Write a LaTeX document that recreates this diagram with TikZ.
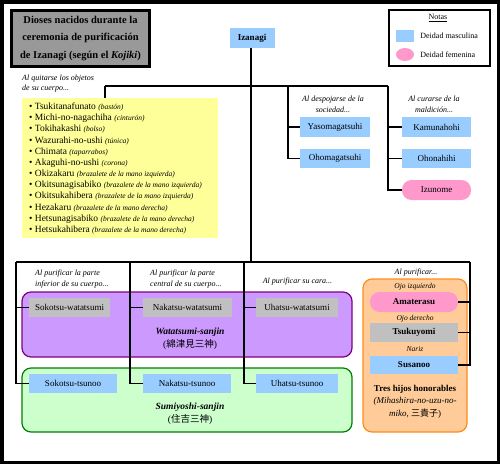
\documentclass[tikz,border=0pt]{standalone}
\usepackage{fontspec}
\setmainfont{Liberation Serif}
\newfontfamily\cjk{Noto Sans CJK JP}
\usepackage{tikz}
\usetikzlibrary{positioning, shapes.geometric, calc}
\definecolor{malebox}{HTML}{99CCFF}
\definecolor{femalebox}{HTML}{FF99CC}
\definecolor{greybox}{HTML}{C0C0C0}
\definecolor{titlegrey}{HTML}{999999}
\definecolor{listyellow}{HTML}{FFFF99}
\definecolor{watafill}{HTML}{CC99FF}
\definecolor{wataline}{HTML}{800080}
\definecolor{sumifill}{HTML}{CCFFCC}
\definecolor{sumiline}{HTML}{008000}
\definecolor{hijofill}{HTML}{FFCC99}
\definecolor{hijoline}{HTML}{FF8C1A}
\newcommand{\fs}[2]{\fontsize{#1}{#2}\selectfont}
\tikzset{
  godbox/.style={inner sep=0pt, minimum height=19pt, font=\fs{9}{10}},
  male/.style={godbox, fill=malebox},
  female/.style={godbox, fill=femalebox, rounded corners=9.5pt},
  greygod/.style={godbox, fill=greybox},
  link/.style={line width=1.6pt},
  hint/.style={inner sep=0pt, align=left, font=\fs{8}{10.5}\itshape},
  trio/.style={rounded corners=9pt, line width=1.2pt, inner sep=0pt},
}

\begin{document}
\begin{tikzpicture}[x=1pt, y=-1pt]
    \useasboundingbox (0,0) rectangle (500,464);
    \draw[line width=3.5pt] (1.75,1.75) rectangle (498.25,462.25);

    % title and legend
    \node[draw, line width=2.5pt, fill=titlegrey, minimum width=138pt, minimum height=56pt, inner sep=0pt,
      align=center, font=\fs{10.5}{17.5}\bfseries] (title) at (80.5,38.5)
      {Dioses nacidos durante la\\ceremonia de purificación\\de Izanagi (según el \textit{Kojiki})};
    \node[draw, line width=2.5pt, minimum width=101pt, minimum height=56pt, inner sep=0pt] (legend) at (439.5,38) {};
    \node[font=\fs{8}{9}, inner sep=0pt] (notas) at (438,18) {\underline{Notas}};
    \node[male, minimum width=18pt, minimum height=12pt] (keym) at (405,35.5) {};
    \node[female, ellipse, minimum width=18pt, minimum height=13pt] (keyf) at (405,54.5) {};
    \node[right=6pt of keym, font=\fs{8}{9}, inner sep=0pt] (keymtxt) {Deidad masculina};
    \node[right=6pt of keyf, font=\fs{8}{9}, inner sep=0pt] (keyftxt) {Deidad femenina};

    \node[male, minimum width=45pt, minimum height=20pt, font=\fs{9}{10}\bfseries] (izanagi) at (252,38) {Izanagi};

    % objects taken off
    \node[hint, anchor=west] (capobj) at (22,83.5) {Al quitarse los objetos\\de su cuerpo...};
    \node[fill=listyellow, minimum width=196pt, minimum height=140pt, inner sep=0pt] (items) at (120,168) {};
    \foreach \god/\obj [count=\i from 0] in {Tsukitanafunato/bastón, Michi-no-nagachiha/cinturón,
      Tokihakashi/bolso, Wazurahi-no-ushi/túnica, Chimata/taparrabos, Akaguhi-no-ushi/corona,
      Okizakaru/brazalete de la mano izquierda, Okitsunagisabiko/brazalete de la mano izquierda,
      Okitsukahibera/brazalete de la mano izquierda, Hezakaru/brazalete de la mano derecha,
      Hetsunagisabiko/brazalete de la mano derecha, Hetsukahibera/brazalete de la mano derecha}
      \node[anchor=west, inner sep=0pt, font=\fs{9.5}{11}] (item\i) at (29,{107+11.18*\i})
        {\textbullet\ \god\ {\fs{7.5}{9}\itshape(\obj)}};

    % society and curse
    \node[hint, align=center] (capsoc) at (333,104.5) {Al despojarse de la\\sociedad...};
    \node[hint, align=center] (capmal) at (434,104.5) {Al curarse de la\\maldición...};
    \node[male, minimum width=70pt, minimum height=20pt] (yaso) at (335,127) {Yasomagatsuhi};
    \node[male, minimum width=70pt] (ohoma) at (335,158.5) {Ohomagatsuhi};
    \node[male, minimum width=69pt, minimum height=20pt] (kamu) at (436.5,127) {Kamunahohi};
    \node[male, minimum width=69pt] (ohona) at (436.5,158.5) {Ohonahihi};
    \node[female, minimum width=69pt, minimum height=20pt] (izunome) at (436.5,190) {Izunome};

    % purification groups
    \node[trio, draw=wataline, fill=watafill, minimum width=330pt, minimum height=65pt] (wata) at (187,324.5) {};
    \node[trio, draw=sumiline, fill=sumifill, minimum width=330pt, minimum height=64pt] (sumi) at (187,400) {};
    \node[trio, draw=hijoline, fill=hijofill, minimum width=104pt, minimum height=153pt] (hijos) at (415,355.5) {};
    \node[align=center, inner sep=0pt, font=\fs{9.5}{13}] (watalbl) at (190,338.5)
      {\textbf{\textit{Watatsumi-sanjin}}\\({\cjk 綿津見三神})};
    \node[align=center, inner sep=0pt, font=\fs{9.5}{13}] (sumilbl) at (190,414)
      {\textbf{\textit{Sumiyoshi-sanjin}}\\({\cjk 住吉三神})};
    \node[align=center, inner sep=0pt, font=\fs{9}{12.5}] (hijoslbl) at (415,401.5)
      {\textbf{Tres hijos honorables}\\\textit{(Mihashira-no-uzu-no-}\\\textit{miko,} {\cjk 三貴子})};

    \node[hint, anchor=west] (capinf) at (35,279) {Al purificar la parte\\inferior de su cuerpo...};
    \node[hint, anchor=west] (capcen) at (150,279) {Al purificar la parte\\central de su cuerpo...};
    \node[hint] (capcara) at (297.5,281.5) {Al purificar su cara...};
    \node[hint] (capojo) at (416,273) {Al purificar...};
    \node[hint, font=\fs{7.5}{9}\itshape] (ojoiz) at (415,287) {Ojo izquierdo};
    \node[hint, font=\fs{7.5}{9}\itshape] (ojode) at (415,318.5) {Ojo derecho};
    \node[hint, font=\fs{7.5}{9}\itshape] (nariz) at (415,349.5) {Nariz};

    \node[greygod, minimum width=81pt] (sokw) at (69.5,307.5) {Sokotsu-watatsumi};
    \node[greygod, minimum width=89pt] (nakw) at (187.5,307.5) {Nakatsu-watatsumi};
    \node[greygod, minimum width=82pt] (uhaw) at (297,307.5) {Uhatsu-watatsumi};
    \node[male, minimum width=88pt] (sokt) at (73,383.5) {Sokotsu-tsunoo};
    \node[male, minimum width=88pt] (nakt) at (187,383.5) {Nakatsu-tsunoo};
    \node[male, minimum width=82pt] (uhat) at (297,383.5) {Uhatsu-tsunoo};
    \node[female, minimum width=88pt, minimum height=20pt, font=\fs{9}{10}\bfseries] (amat) at (414,302) {Amaterasu};
    \node[greygod, minimum width=88pt, font=\fs{9}{10}\bfseries] (tsuku) at (414,332.5) {Tsukuyomi};
    \node[male, minimum width=88pt, minimum height=18pt, font=\fs{9}{10}\bfseries] (susa) at (414,365) {Susanoo};

    % connectors
    \coordinate (hub) at (251,86);
    \coordinate (bar l) at (105,86);
    \coordinate (bar m) at (288,86);
    \coordinate (bar r) at (388,86);
    \draw[link] (bar l) -- (bar r);
    \draw[link] (izanagi.south -| hub) -- (hub);
    \draw[link] (bar l) -- (bar l |- items.north);
    \draw[link] (bar m) |- (yaso);
    \draw[link] (bar m) |- (ohoma);
    \draw[link] (bar r) |- (kamu);
    \draw[link] (bar r) |- (ohona);
    \draw[link] (bar r) |- (izunome);

    \coordinate (low l) at (16,262);
    \coordinate (low a) at (130,262);
    \coordinate (low b) at (244,262);
    \coordinate (low r) at (470,262);
    \draw[link] (low l) -- (low r);
    \draw[link] (hub) -- (hub |- low l);
    \draw[link] (low l) |- (sokw);
    \draw[link] (low l) |- (sokt);
    \draw[link] (low a) |- (nakw);
    \draw[link] (low a) |- (nakt);
    \draw[link] (low b) |- (uhaw);
    \draw[link] (low b) |- (uhat);
    \draw[link] (low r) |- (amat);
    \draw[link] (low r) |- (tsuku);
    \draw[link] (low r) |- (susa);
\end{tikzpicture}
\end{document}
